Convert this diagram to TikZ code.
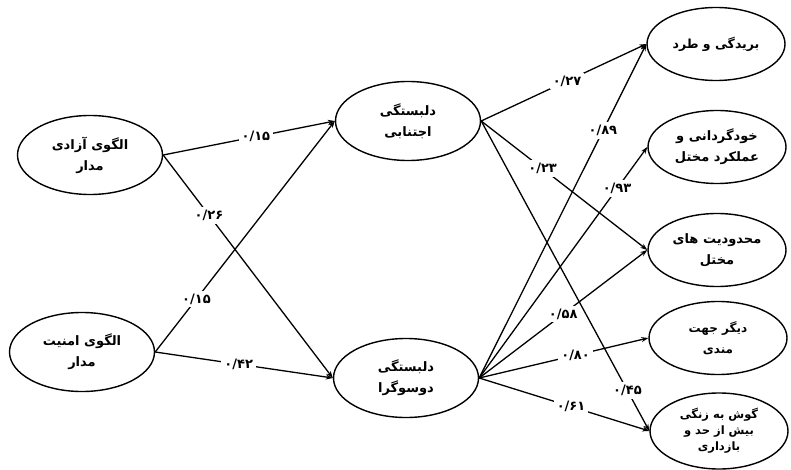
\documentclass[tikz,border=0pt]{standalone}
\usepackage{fontspec}
\newfontfamily\arabicfont[Script=Arabic]{DejaVu Sans}
\TeXXeTstate=1
\usetikzlibrary{shapes.geometric,arrows.meta}
\newcommand\fatxt[1]{\beginR #1\endR}
\begin{document}
\begin{tikzpicture}[x=1pt,y=-1pt,
  oval/.style={ellipse, draw, line width=1.4pt, align=center,
    font=\arabicfont\bfseries\fontsize{13}{21}\selectfont, inner sep=0pt},
  leftoval/.style={oval, minimum width=145pt, minimum height=79pt},
  rightoval/.style={oval, minimum width=138pt, minimum height=73pt},
  link/.style={line width=1.3pt, -{Stealth[length=7pt,width=5pt]}},
  wt/.style={fill=white, inner sep=3pt, font=\arabicfont\bfseries\fontsize{13}{14}\selectfont}]
\useasboundingbox (0,0) rectangle (791,470);

% left nodes
\node[leftoval] (a1) at (90,155) {\fatxt{الگوی آزادی}\\\fatxt{مدار}};
\node[leftoval] (a2) at (82,352) {\fatxt{الگوی امنیت}\\\fatxt{مدار}};

% middle nodes
\node[leftoval] (b1) at (408,121) {\fatxt{دلبستگی}\\\fatxt{اجتنابی}};
\node[leftoval] (b2) at (406,378) {\fatxt{دلبستگی}\\\fatxt{دوسوگرا}};

% right nodes
\node[rightoval, font=\arabicfont\bfseries\fontsize{12.5}{16}\selectfont] (c1) at (716,44) {\fatxt{بریدگی و طرد}};
\node[rightoval] (c2) at (717,147) {\fatxt{خودگردانی و}\\\fatxt{عملکرد مختل}};
\node[rightoval] (c3) at (717,250) {\fatxt{محدودیت های}\\\fatxt{مختل}};
\node[rightoval, font=\arabicfont\bfseries\fontsize{12}{21}\selectfont] (c4) at (718,338) {\fatxt{دیگر جهت}\\\fatxt{مندی}};
\node[rightoval, minimum height=76pt, font=\arabicfont\bfseries\fontsize{11.5}{16}\selectfont] (c5) at (719,431) {\fatxt{گوش به زنگی}\\\fatxt{بیش از حد و}\\\fatxt{بازداری}};

% left to middle
\draw[link] (a1.east) -- node[wt, pos=0.54] {۰/۱۵} (b1.west);
\draw[link] (a1.east) -- node[wt, pos=0.27] {۰/۲۶} (b2.west);
\draw[link] (a2.east) -- node[wt, pos=0.23] {۰/۱۵} (b1.west);
\draw[link] (a2.east) -- node[wt, pos=0.47] {۰/۴۲} (b2.west);

% middle top to right
\draw[link] (b1.east) -- node[wt, pos=0.52] {۰/۲۷} (c1.west);
\draw[link] (b1.east) -- node[wt, pos=0.37] {۰/۲۳} (c3.west);
\draw[link] (b1.east) -- node[wt, pos=0.87] {۰/۴۵} (c5.west);

% middle bottom to right
\draw[link] (b2.east) -- node[wt, pos=0.74] {۰/۸۹} (c1.west);
\draw[link] (b2.east) -- node[wt, pos=0.82] {۰/۹۳} (c2.west);
\draw[link] (b2.east) -- node[wt, pos=0.50] {۰/۵۸} (c3.west);
\draw[link] (b2.east) -- node[wt, pos=0.57] {۰/۸۰} (c4.west);
\draw[link] (b2.east) -- node[wt, pos=0.54] {۰/۶۱} (c5.west);
\end{tikzpicture}
\end{document}
